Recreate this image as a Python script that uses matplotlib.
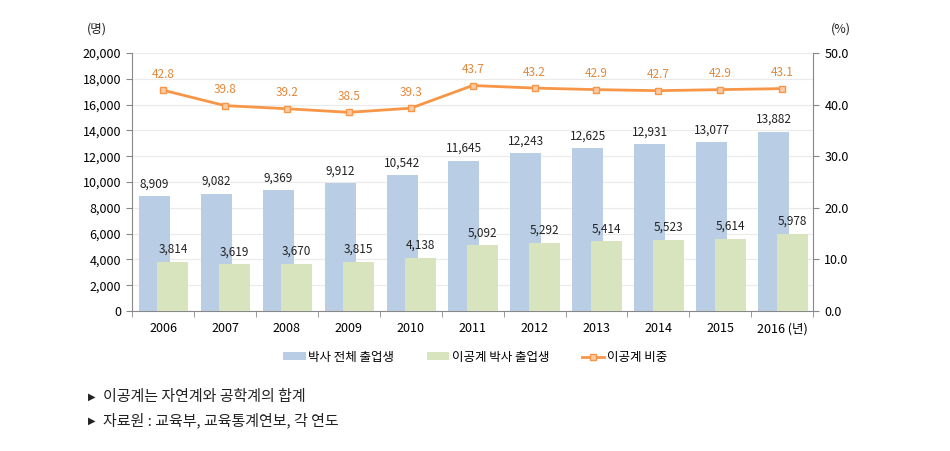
import numpy as np
import matplotlib
matplotlib.use('Agg')
import matplotlib.pyplot as plt
from matplotlib.ticker import FuncFormatter

plt.rcParams['font.family'] = ['Noto Sans CJK KR', 'DejaVu Sans']

## data
years = ['2006', '2007', '2008', '2009', '2010', '2011', '2012', '2013', '2014', '2015', '2016 (년)']
total = [8909, 9082, 9369, 9912, 10542, 11645, 12243, 12625, 12931, 13077, 13882]
sci_eng = [3814, 3619, 3670, 3815, 4138, 5092, 5292, 5414, 5523, 5614, 5978]
ratio = [42.8, 39.8, 39.2, 38.5, 39.3, 43.7, 43.2, 42.9, 42.7, 42.9, 43.1]

c_blue = '#B9CDE5'
c_green = '#D7E4BD'
c_line = '#F79646'
c_lab = '#E3883A'

fig = plt.figure(figsize=(9.5, 4.51), dpi=100, facecolor='white')
ax = fig.add_axes([0.139, 0.3104, 0.717, 0.5721])
ax2 = ax.twinx()

x = np.arange(len(years))
w = 0.5
b1 = ax.bar(x - 0.14, total, w, color=c_blue, zorder=2)
b2 = ax.bar(x + 0.16, sci_eng, w, color=c_green, zorder=3)

for i in range(len(x)):
    ax.text(x[i] - 0.14, total[i] + 450, f'{total[i]:,}', ha='center', va='bottom', fontsize=8.5, color='#222222', zorder=4)
    ax.text(x[i] + 0.16, sci_eng[i] + 450, f'{sci_eng[i]:,}', ha='center', va='bottom', fontsize=8.5, color='#222222', zorder=4)

ax.set_ylim(0, 20000)
ax.set_yticks(np.arange(0, 20001, 2000))
ax.yaxis.set_major_formatter(FuncFormatter(lambda v, p: f'{int(v):,}'))
ax.set_xlim(-0.5, len(x) - 0.5)
ax.set_xticks(x)
ax.set_xticklabels(years)
ax.set_xticks(np.arange(-0.5, len(x), 1), minor=True)
ax.tick_params(axis='x', which='major', length=0, pad=8, labelsize=9)
ax.tick_params(axis='x', which='minor', length=4, color='#888888')
ax.tick_params(axis='y', length=4, color='#888888', labelsize=9, pad=4)
ax.grid(axis='y', color='#EBEBEB', linewidth=0.8, zorder=0)
ax.set_axisbelow(True)
for s in ['top', 'right']:
    ax.spines[s].set_visible(False)
ax.spines['left'].set_color('#888888')
ax.spines['bottom'].set_color('#888888')

l1, = ax2.plot(x, ratio, color=c_line, linewidth=2, marker='s', markersize=5,
               markerfacecolor='#FBCBA5', markeredgecolor=c_line, markeredgewidth=1, zorder=5)
for i in range(len(x)):
    ax2.text(x[i], ratio[i] + 1.8, f'{ratio[i]:.1f}', ha='center', va='bottom', fontsize=8.5, color=c_lab)
ax2.set_ylim(0, 50)
ax2.set_yticks(np.arange(0, 50.1, 10))
ax2.yaxis.set_major_formatter(FuncFormatter(lambda v, p: f'{v:.1f}'))
ax2.tick_params(axis='y', length=4, color='#888888', labelsize=9, pad=4)
for s in ['top', 'left', 'bottom']:
    ax2.spines[s].set_visible(False)
ax2.spines['right'].set_color('#888888')

fig.text(0.102, 0.935, '(명)', fontsize=9, ha='center', va='center', color='#222222')
fig.text(0.885, 0.935, '(%)', fontsize=9, ha='center', va='center', color='#222222')

fig.legend([b1, b2, l1], ['박사 전체 출업생', '이공계 박사 출업생', '이공계 비중'],
           loc='center', bbox_to_anchor=(0.5, 0.208), ncol=3, frameon=False,
           fontsize=9, handlelength=1.8, handleheight=0.6, columnspacing=2.6, handletextpad=0.2)

fig.text(0.093, 0.12, '▶', fontsize=7, va='center', color='#222222', family='DejaVu Sans')
fig.text(0.108, 0.12, '이공계는 자연계와 공학계의 합계', fontsize=10.8, va='center', color='#222222')
fig.text(0.093, 0.068, '▶', fontsize=7, va='center', color='#222222', family='DejaVu Sans')
fig.text(0.108, 0.068, '자료원 : 교육부, 교육통계연보, 각 연도', fontsize=10.8, va='center', color='#222222')

fig.savefig('out.png', dpi=100, facecolor='white')
